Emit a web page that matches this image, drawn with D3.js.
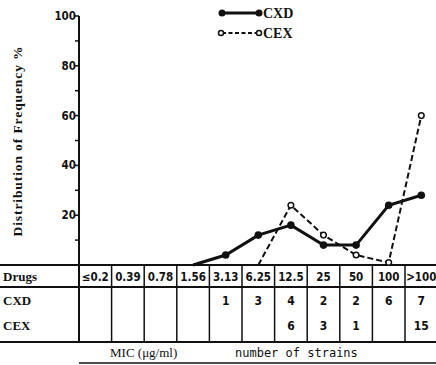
<!DOCTYPE html>
<html><head><meta charset="utf-8">
<script src="https://cdn.jsdelivr.net/npm/d3@7"></script>
<style>body{margin:0;background:#fff}svg{display:block}</style>
</head><body>
<svg id="c" width="436" height="365"></svg>
<script>
const categories = ["≤0.2","0.39","0.78","1.56","3.13","6.25","12.5","25","50","100",">100"];
const cxdPct = [null,null,null,0,4,12,16,8,8,24,28];
const cexPct = [null,null,null,null,null,0,24,12,4,1,60];
const cxdStrains = [null,null,null,null,1,3,4,2,2,6,7];
const cexStrains = [null,null,null,null,null,null,6,3,1,null,15];
const yTicks = [20,40,60,80,100];
const minorTicks = [10,20,30,40,50,60,70,80,90,100];

const svg = d3.select("#c");
const x = d3.scaleBand().domain(categories).range([79, 437.6]).padding(0);
const y = d3.scaleLinear().domain([0,100]).range([265,16]);
const cx = c => x(c) + x.bandwidth()/2;
const ink = "#111";

// y axis
svg.append("line").attr("x1",79).attr("x2",79).attr("y1",y(100)).attr("y2",342)
  .attr("stroke",ink).attr("stroke-width",2);
svg.selectAll(".mt").data(minorTicks).join("line")
  .attr("x1",75).attr("x2",79).attr("y1",d=>y(d)).attr("y2",d=>y(d))
  .attr("stroke",ink).attr("stroke-width",1.5);
svg.selectAll(".yl").data(yTicks).join("text")
  .attr("x",76).attr("y",d=>y(d)+4).attr("text-anchor","end")
  .attr("font-family","DejaVu Sans Condensed").attr("font-weight","bold")
  .attr("font-size",11.5).attr("fill",ink).text(d=>d);
svg.append("text").attr("transform","translate(22,141) rotate(-90)")
  .attr("text-anchor","middle").attr("font-family","Liberation Serif")
  .attr("font-weight","bold").attr("font-size",13.5).attr("letter-spacing",0.9)
  .attr("fill",ink).text("Distribution of Frequency %");

// table lines
[265,287,342].forEach(v=>{
  svg.append("line").attr("x1",0).attr("x2",436).attr("y1",v).attr("y2",v)
    .attr("stroke",ink).attr("stroke-width",2);
});
svg.append("line").attr("x1",79).attr("x2",436).attr("y1",363).attr("y2",363)
  .attr("stroke",ink).attr("stroke-width",1.5);
svg.selectAll(".vl").data(categories.slice(1)).join("line")
  .attr("x1",d=>x(d)).attr("x2",d=>x(d)).attr("y1",265).attr("y2",342)
  .attr("stroke",ink).attr("stroke-width",1.5);

// row labels
[["Drugs",281],["CXD",305],["CEX",330]].forEach(([t,yy])=>{
  svg.append("text").attr("x",3).attr("y",yy).attr("font-family","Liberation Serif")
    .attr("font-weight","bold").attr("font-size",13).attr("fill",ink).text(t);
});
svg.selectAll(".hd").data(categories).join("text")
  .attr("x",d=>cx(d)).attr("y",281).attr("text-anchor","middle")
  .attr("font-family","DejaVu Sans Condensed").attr("font-size",11.5).attr("font-weight","bold")
  .attr("fill",ink).text(d=>d);
svg.selectAll(".s1").data(categories.filter((c,i)=>cxdStrains[i]!=null)).join("text")
  .attr("x",d=>cx(d)).attr("y",305).attr("text-anchor","middle")
  .attr("font-family","DejaVu Sans Condensed").attr("font-size",12).attr("font-weight","bold")
  .attr("fill",ink).text(d=>cxdStrains[categories.indexOf(d)]);
svg.selectAll(".s2").data(categories.filter((c,i)=>cexStrains[i]!=null)).join("text")
  .attr("x",d=>cx(d)).attr("y",330).attr("text-anchor","middle")
  .attr("font-family","DejaVu Sans Condensed").attr("font-size",12).attr("font-weight","bold")
  .attr("fill",ink).text(d=>cexStrains[categories.indexOf(d)]);
svg.append("text").attr("x",110).attr("y",357).attr("font-family","Liberation Serif")
  .attr("font-size",13).attr("fill",ink).text("MIC (μg/ml)");
svg.append("text").attr("x",235).attr("y",357).attr("font-family","DejaVu Sans Mono")
  .attr("font-size",12).attr("fill",ink).text("number of strains");

// series
function series(vals){ return categories.map((c,i)=>({c,v:vals[i]})).filter(d=>d.v!=null); }
const line = d3.line().x(d=>cx(d.c)).y(d=>y(d.v));
const cxd = series(cxdPct), cex = series(cexPct);
svg.append("path").attr("d",line(cxd)).attr("fill","none").attr("stroke",ink).attr("stroke-width",3);
svg.append("path").attr("d",line(cex)).attr("fill","none").attr("stroke",ink)
  .attr("stroke-width",2).attr("stroke-dasharray","6,3");
svg.selectAll(".m1").data(cxd.slice(1)).join("circle")
  .attr("cx",d=>cx(d.c)).attr("cy",d=>y(d.v)).attr("r",3.8).attr("fill",ink);
svg.selectAll(".m2").data(cex.slice(1)).join("circle")
  .attr("cx",d=>cx(d.c)).attr("cy",d=>y(d.v)).attr("r",2.8).attr("fill","#fff")
  .attr("stroke",ink).attr("stroke-width",1.5);

// legend
const lg = svg.append("g");
lg.append("line").attr("x1",222).attr("x2",259).attr("y1",13).attr("y2",13).attr("stroke",ink).attr("stroke-width",3);
lg.append("circle").attr("cx",222).attr("cy",13).attr("r",3.5).attr("fill",ink);
lg.append("circle").attr("cx",259).attr("cy",13).attr("r",3.5).attr("fill",ink);
lg.append("text").attr("x",263).attr("y",18).attr("font-family","Liberation Serif").attr("font-weight","bold")
  .attr("font-size",14).attr("fill",ink).text("CXD");
lg.append("line").attr("x1",222).attr("x2",258).attr("y1",33).attr("y2",33).attr("stroke",ink)
  .attr("stroke-width",2).attr("stroke-dasharray","4,2.5");
lg.append("circle").attr("cx",221).attr("cy",33).attr("r",2.5).attr("fill","#fff").attr("stroke",ink).attr("stroke-width",1.5);
lg.append("circle").attr("cx",259).attr("cy",33).attr("r",2.5).attr("fill","#fff").attr("stroke",ink).attr("stroke-width",1.5);
lg.append("text").attr("x",263).attr("y",38).attr("font-family","Liberation Serif").attr("font-weight","bold")
  .attr("font-size",14).attr("fill",ink).text("CEX");
</script>
</body></html>
